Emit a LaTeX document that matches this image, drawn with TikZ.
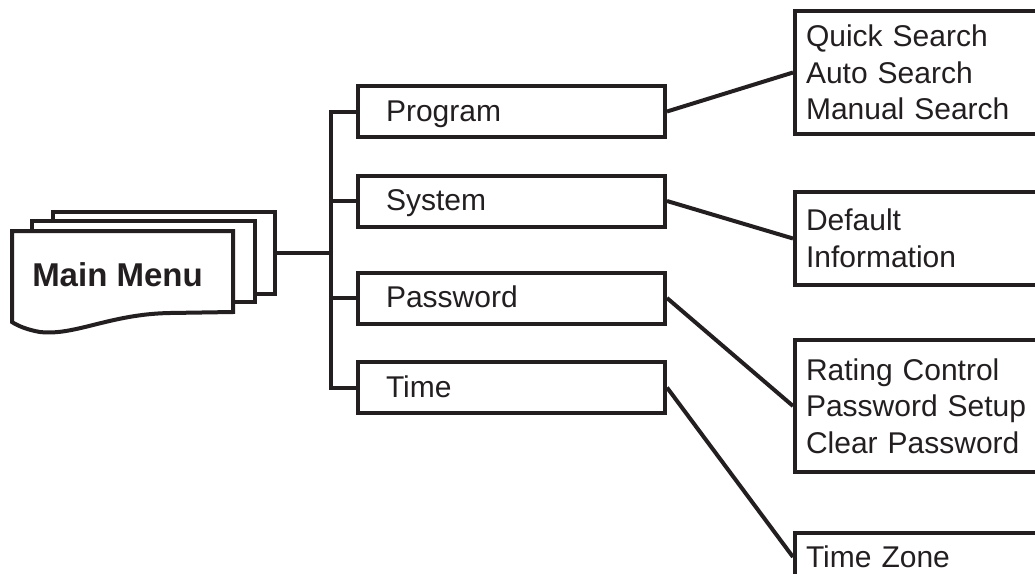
\documentclass[tikz,border=0pt]{standalone}
\usepackage{fontspec}
\setmainfont{Liberation Sans}
\definecolor{ink}{RGB}{35,31,32}
\tikzset{
  menubox/.style={draw=ink, line width=4pt, rectangle, fill=white,
    minimum width=307pt, minimum height=51pt, text width=251pt,
    inner xsep=28pt, align=left, text height=22pt, text depth=3pt,
    font=\fontsize{30}{36.5}\selectfont, text=ink},
  subbox/.style={draw=ink, line width=4pt, rectangle, anchor=north west,
    minimum width=262pt, text width=240pt, inner xsep=11pt, align=left,
    font=\fontsize{30}{36.5}\selectfont, text=ink},
  sheet/.style={draw=ink, line width=4pt, fill=white},
  link/.style={draw=ink, line width=4pt}
}
\begin{document}
\begin{tikzpicture}[x=1pt,y=-1pt]
\useasboundingbox (0,0) rectangle (1035,573);
\clip (0,0) rectangle (1035,573);

% main menu stacked sheets
\node[sheet, minimum width=222pt, minimum height=82pt, inner sep=0pt] (mmback) at (164,253) {};
\node[sheet, minimum width=223pt, minimum height=81pt, inner sep=0pt] (mmmid) at (143.5,261.5) {};
\filldraw[sheet] (12,231) -- (233,231) -- (233,312) -- (170,313)
  .. controls (110,314) and (75,336) .. (40,332)
  .. controls (28,330) and (18,326) .. (12,322) -- cycle;
\node[text=ink, font=\fontsize{33}{40}\selectfont\bfseries, inner sep=0pt,
  text height=24pt, text depth=0pt] (mm) at (117.5,274.5) {Main Menu};

% first-level menu boxes
\node[menubox] (prog) at (511.5,111.5) {Program};
\node[menubox] (sys)  at (511.5,201) {System};
\node[menubox] (pw)   at (511.5,298) {Password};
\node[menubox] (time) at (511.5,387.5) {Time};

% trunk
\coordinate (tr) at (331,253);
\draw[link] (prog.west) -| (tr) |- (time.west);
\draw[link] (sys.west) -- (sys.west -| tr);
\draw[link] (pw.west) -- (pw.west -| tr);
\draw[link] (mmback.east) -- (tr);

% second-level boxes
\node[subbox, minimum height=123pt] (qs) at (793,9) {Quick Search\\Auto Search\\Manual Search};
\node[subbox, minimum height=93pt] (df) at (793,190) {Default\\Information};
\node[subbox, minimum height=132pt] (rc) at (793,338) {Rating Control\\Password Setup\\Clear Password};
\node[subbox, minimum height=48pt] (tz) at (793,531) {Time Zone};

\draw[link] (prog.east) -- (qs.west);
\draw[link] (sys.east) -- (df.west);
\draw[link] (pw.east) -- (rc.west);
\draw[link] (time.east) -- (tz.west);
\end{tikzpicture}
\end{document}
